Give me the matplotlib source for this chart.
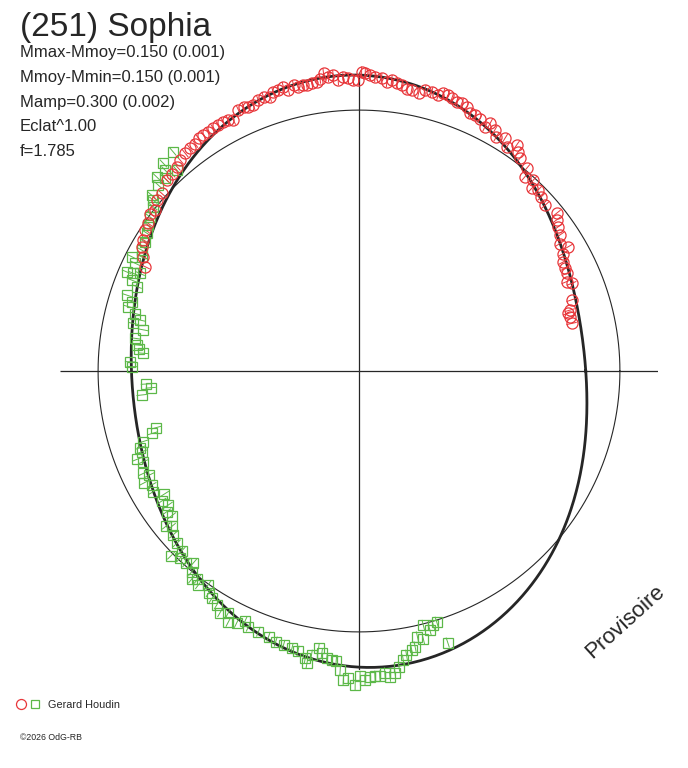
import numpy as np
import matplotlib
matplotlib.use("Agg")
import matplotlib.pyplot as plt
from matplotlib.lines import Line2D
from matplotlib.legend_handler import HandlerTuple

plt.rcParams['font.family'] = ['Liberation Sans', 'DejaVu Sans']

# ---------------- data ----------------
title = "(251) Sophia"
info_lines = ["Mmax-Mmoy=0.150 (0.001)",
              "Mmoy-Mmin=0.150 (0.001)",
              "Mamp=0.300 (0.002)",
              "Eclat^1.00",
              "f=1.785"]
observer = "Gerard Houdin"
credit = "\u00a92026 OdG-RB"
status = "Provisoire"

# session 1 (red circles): rotational phase angle (deg) and relative flux
red_angle = [154.0, 152.1, 150.2, 148.7, 146.6, 145.0, 143.0, 141.7, 139.8, 138.0,
             135.2, 133.5, 131.7, 130.3, 128.6, 127.2, 125.8, 124.6, 123.4, 122.2,
             121.0, 119.8, 118.6, 117.5, 116.6, 114.8, 113.6, 112.7, 111.7, 110.4,
             109.2, 108.0, 107.1, 106.0, 104.9, 104.1, 102.9, 102.1, 101.0, 100.4,
             99.3, 98.3, 97.6, 96.8, 96.0, 95.0, 94.1, 93.1, 92.1, 91.1,
             90.1, 89.5, 88.8, 87.9, 86.9, 85.6, 84.5, 83.6, 82.5, 81.5,
             80.4, 79.4, 77.9, 76.8, 75.4, 74.0, 73.1, 72.1, 71.2, 70.1,
             69.0, 67.8, 66.7, 65.6, 64.4, 62.7, 62.1, 60.6, 59.6, 57.9,
             56.6, 55.1, 54.0, 52.9, 50.4, 49.5, 47.6, 46.6, 45.3, 43.7,
             41.7, 38.6, 37.4, 35.9, 34.1, 32.4, 30.7, 29.9, 28.1, 26.5,
             25.2, 23.3, 22.4, 18.5, 16.1, 15.4, 14.4, 12.6]
red_flux = [0.912, 0.935, 0.959, 0.967, 0.982, 0.986, 1.003, 0.996, 1.015, 1.017,
            1.038, 1.043, 1.049, 1.060, 1.068, 1.071, 1.075, 1.083, 1.083, 1.084,
            1.085, 1.086, 1.087, 1.084, 1.076, 1.102, 1.105, 1.098, 1.097, 1.108,
            1.113, 1.105, 1.119, 1.120, 1.127, 1.110, 1.124, 1.114, 1.116, 1.114,
            1.117, 1.120, 1.131, 1.149, 1.134, 1.138, 1.118, 1.129, 1.122, 1.115,
            1.115, 1.147, 1.141, 1.135, 1.129, 1.125, 1.113, 1.122, 1.112, 1.108,
            1.098, 1.095, 1.088, 1.106, 1.105, 1.100, 1.112, 1.111, 1.104, 1.098,
            1.099, 1.094, 1.075, 1.077, 1.073, 1.053, 1.074, 1.060, 1.041, 1.052,
            1.029, 1.056, 1.039, 1.022, 1.008, 0.979, 0.991, 0.963, 0.976, 0.967,
            0.955, 0.969, 0.953, 0.943, 0.930, 0.912, 0.933, 0.903, 0.888, 0.882,
            0.879, 0.866, 0.881, 0.859, 0.841, 0.832, 0.835, 0.835]

# session 2 (green squares)
green_angle = [130.3, 133.3, 134.0, 132.2, 136.2, 135.2, 137.2, 139.7, 140.3, 141.4,
               143.6, 145.3, 147.0, 148.9, 150.9, 152.3, 153.3, 154.3, 156.9, 156.6,
               156.0, 158.2, 159.2, 161.9, 163.0, 164.4, 165.6, 166.9, 168.1, 169.2,
               171.7, 173.3, 174.3, 175.3, 177.7, 178.9, 183.5, 184.6, 186.3, 195.6,
               196.8, 198.1, 199.3, 200.4, 201.7, 202.8, 205.4, 206.4, 207.5, 208.8,
               210.4, 212.3, 213.4, 215.1, 216.2, 217.7, 218.8, 219.7, 221.4, 223.4,
               225.4, 224.5, 226.3, 228.0, 229.2, 230.2, 231.2, 232.2, 233.1, 234.8,
               235.9, 237.1, 238.7, 240.1, 241.6, 242.5, 244.1, 245.5, 246.6, 248.9,
               251.2, 252.9, 254.6, 256.4, 257.7, 259.4, 259.9,
               260.5, 261.7, 262.5, 263.6, 264.6, 265.5, 266.4, 267.1, 268.0, 269.3,
               270.2, 271.1, 272.1, 273.0, 273.9, 274.9, 275.8, 276.8, 277.7, 278.7,
               279.5, 280.7, 281.5, 282.4, 283.5, 284.2, 285.3, 286.3, 287.2, 288.1]
green_flux = [1.103, 1.093, 1.070, 1.040, 1.075, 1.048, 1.048, 1.042, 1.025, 1.009,
              0.995, 0.982, 0.970, 0.958, 0.953, 0.941, 0.975, 0.952, 0.968, 0.942,
              0.919, 0.938, 0.911, 0.936, 0.910, 0.918, 0.886, 0.862, 0.884, 0.841,
              0.867, 0.858, 0.846, 0.829, 0.878, 0.871, 0.818, 0.801, 0.838, 0.808,
              0.827, 0.870, 0.889, 0.888, 0.916, 0.897, 0.915, 0.897, 0.928, 0.906,
              0.914, 0.882, 0.905, 0.893, 0.913, 0.907, 0.948, 0.933, 0.949, 0.961,
              0.968, 1.010, 0.993, 0.991, 0.972, 1.001, 1.024, 1.010, 1.025, 1.003,
              1.026, 1.038, 1.049, 1.068, 1.053, 1.085, 1.074, 1.055, 1.068, 1.071,
              1.076, 1.085, 1.089, 1.093, 1.098, 1.120, 1.138,
              1.103, 1.074, 1.091, 1.108, 1.112, 1.115, 1.148, 1.185, 1.178, 1.203,
              1.169, 1.184, 1.174, 1.170, 1.171, 1.160, 1.177, 1.164, 1.143, 1.120,
              1.103, 1.088, 1.078, 1.042, 1.057, 1.004, 1.029, 1.014, 1.006, 1.095]

# Fourier fit of relative flux vs angle (harmonics 1..4)
fit_mean = 0.997
fit_cos = [0.0026, -0.132, -0.0041, 0.0056]
fit_sin = [-0.0043, -0.023, -0.0038, 0.0]
r_max = 1.146   # axis extent (relative flux)

# ---------------- style ----------------
RED = '#e8363a'
GREEN = '#5cb848'
INK = '#262626'
W, H = 688, 768

fig = plt.figure(figsize=(W / 100, H / 100), dpi=100)
fig.patch.set_facecolor('white')

cx, cy, rad = 359, 371, 299
ax = fig.add_axes([(cx - rad) / W, (H - cy - rad) / H, 2 * rad / W, 2 * rad / H],
                  projection='polar')
ax.set_ylim(0, r_max)
ax.grid(False)
ax.set_xticks([])
ax.set_yticks([])
ax.spines['polar'].set_visible(False)
ax.patch.set_alpha(0)

# cross axes
ax.vlines(np.deg2rad([0, 90, 180, 270]), 0, r_max, color=INK, lw=0.9, zorder=1)

# mean-flux circle
th = np.linspace(0, 2 * np.pi, 721)
ax.plot(th, np.ones_like(th), color=INK, lw=0.8, zorder=1)

# fitted curve
fit = np.full_like(th, fit_mean)
for k, (a, b) in enumerate(zip(fit_cos, fit_sin), start=1):
    fit += a * np.cos(k * th) + b * np.sin(k * th)
ax.plot(th, fit, color=INK, lw=2.0, zorder=2, clip_on=False)

# data
err = 0.02
for ang, flx, col, mk, ms in [(green_angle, green_flux, GREEN, 's', 7.0),
                              (red_angle, red_flux, RED, 'o', 8.0)]:
    t = np.deg2rad(ang)
    f = np.array(flx)
    ax.vlines(t, f - err, f + err, color=col, lw=0.7, zorder=3, clip_on=False)
    ax.plot(t, f, ls='none', marker=mk, ms=ms, mfc='none', mec=col, mew=0.9,
            zorder=4, clip_on=False)

# ---------------- texts ----------------
fig.text(20 / W, 1 - 36 / H, title, fontsize=24, color=INK, va='baseline', ha='left')
for i, line in enumerate(info_lines):
    fig.text(20 / W, 1 - (57 + 24.75 * i) / H, line, fontsize=12, color=INK,
             va='baseline', ha='left')

fig.text(625 / W, 1 - 622 / H, status, fontsize=16, color=INK, rotation=42,
         ha='center', va='center')

h_red = Line2D([], [], marker='o', ls='none', mfc='none', mec=RED, ms=7.2, mew=0.9)
h_green = Line2D([], [], marker='s', ls='none', mfc='none', mec=GREEN, ms=5.2, mew=0.9)
fig.legend([(h_red, h_green)], [observer],
           handler_map={tuple: HandlerTuple(ndivide=None, pad=0.6)},
           loc='center left', bbox_to_anchor=(17 / W, 1 - 705 / H),
           frameon=False, fontsize=7.8, handlelength=2.0, handletextpad=0.9,
           borderpad=0, borderaxespad=0, labelcolor=INK)

fig.text(20 / W, 1 - 738 / H, credit, fontsize=6.3, color=INK, va='center', ha='left')

fig.savefig('out.png', dpi=100)
